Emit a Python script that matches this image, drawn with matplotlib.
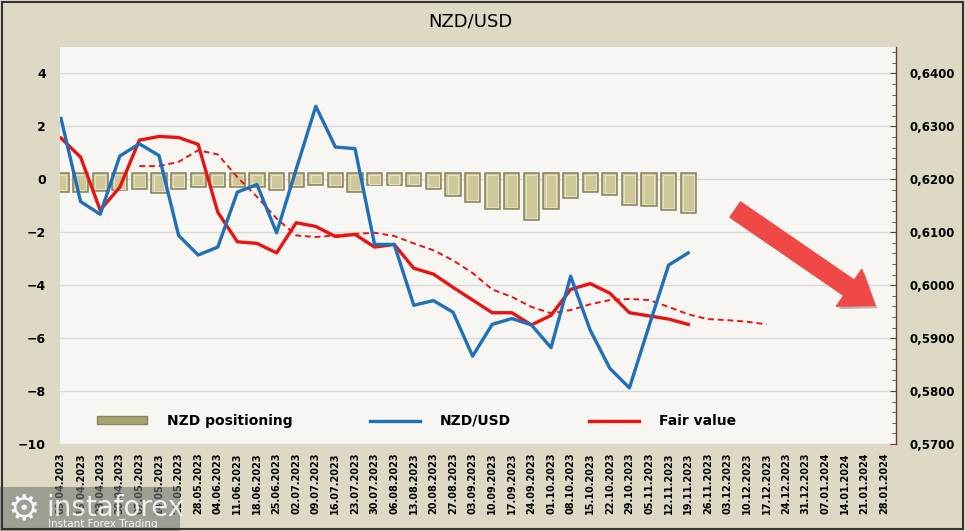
import matplotlib
matplotlib.use('Agg')
import matplotlib.pyplot as plt
from matplotlib.patches import Patch, Rectangle, FancyArrowPatch
from matplotlib.lines import Line2D
from matplotlib.ticker import FuncFormatter, MultipleLocator
import matplotlib.patheffects as pe
import numpy as np

dates = ['09.04.2023', '16.04.2023', '23.04.2023', '30.04.2023', '07.05.2023', '14.05.2023',
         '21.05.2023', '28.05.2023', '04.06.2023', '11.06.2023', '18.06.2023', '25.06.2023',
         '02.07.2023', '09.07.2023', '16.07.2023', '23.07.2023', '30.07.2023', '06.08.2023',
         '13.08.2023', '20.08.2023', '27.08.2023', '03.09.2023', '10.09.2023', '17.09.2023',
         '24.09.2023', '01.10.2023', '08.10.2023', '15.10.2023', '22.10.2023', '29.10.2023',
         '05.11.2023', '12.11.2023', '19.11.2023', '26.11.2023', '03.12.2023', '10.12.2023',
         '17.12.2023', '24.12.2023', '31.12.2023', '07.01.2024', '14.01.2024', '21.01.2024',
         '28.01.2024']

# NZD positioning (left axis)
positioning = [-0.48, -0.48, -0.45, -0.42, -0.35, -0.50, -0.35, -0.29, -0.29, -0.29, -0.29,
               -0.39, -0.29, -0.20, -0.29, -0.48, -0.23, -0.23, -0.26, -0.35, -0.63, -0.86,
               -1.11, -1.13, -1.52, -1.13, -0.69, -0.48, -0.58, -0.98, -1.02, -1.17, -1.27]

# NZD/USD (right axis)
nzdusd = [0.6315, 0.6158, 0.6134, 0.6244, 0.6267, 0.6245, 0.6094, 0.6057, 0.6072, 0.6176,
          0.6190, 0.6099, 0.6219, 0.6338, 0.6261, 0.6258, 0.6077, 0.6077, 0.5962, 0.5971,
          0.5949, 0.5866, 0.5926, 0.5937, 0.5925, 0.5882, 0.6017, 0.5915, 0.5843, 0.5806,
          0.5923, 0.6038, 0.6061]

# Fair value (right axis)
fair_value = [0.6278, 0.6242, 0.6142, 0.6185, 0.6274, 0.6281, 0.6279, 0.6266, 0.6138, 0.6082,
              0.6079, 0.6061, 0.6118, 0.6111, 0.6092, 0.6096, 0.6072, 0.6077, 0.6032, 0.6021,
              0.5996, 0.5972, 0.5948, 0.5948, 0.5925, 0.5943, 0.5992, 0.6003, 0.5985, 0.5948,
              0.5942, 0.5936, 0.5926]

# fair value trend (dashed), starts at 07.05.2023
trend_start = 4
fair_trend = [0.6225, 0.6225, 0.6233, 0.6255, 0.6247, 0.6204, 0.6167, 0.6126, 0.6094, 0.6091,
              0.6094, 0.6097, 0.6099, 0.6093, 0.6079, 0.6066, 0.6047, 0.6023, 0.5992, 0.5978,
              0.5959, 0.5947, 0.5953, 0.5964, 0.5972, 0.5974, 0.5972, 0.5959, 0.5945, 0.5936,
              0.5934, 0.5931, 0.5926]

fig_bg = '#ddd9c4'
plot_bg = '#f7f6f2'

fig = plt.figure(figsize=(9.65, 5.31), dpi=100, facecolor=fig_bg)
ax = fig.add_axes([60/965, 1-444/531, 836/965, 397/531])
ax.set_facecolor(plot_bg)
ax2 = ax.twinx()

x = np.arange(len(dates))

# bars (with a simple bevel look)
xb = x[:len(positioning)]
ax.bar(xb, np.array(positioning) - 0.25, bottom=0.25, width=0.78,
       color='#d3cca0', edgecolor='#858059', linewidth=1.1, zorder=3)
ax.bar(xb, np.array(positioning) - 0.25 + 0.14, bottom=0.25 - 0.07, width=0.54,
       color='#cec797', edgecolor='#e6e1c6', linewidth=0.7, zorder=3)

ax.set_ylim(-10, 5)
ax.set_xlim(-0.05, 42.6)
ax.set_yticks(range(-10, 5, 2))
ax.yaxis.grid(True, color='#d8d8d8', linewidth=1, zorder=0)
ax.set_axisbelow(True)
ax.tick_params(axis='y', length=0, pad=10, labelsize=9)
for lab in ax.get_yticklabels():
    lab.set_fontweight('bold')

ax.set_xticks(x)
ax.set_xticklabels(dates, rotation=90, fontsize=7, fontweight='bold', va='top')
ax.tick_params(axis='x', length=0, pad=6)

for s in ['top', 'left', 'bottom', 'right']:
    ax.spines[s].set_visible(False)

# lines on right axis
xl = x[:len(nzdusd)]
ax2.plot(xl, nzdusd, color='#1f70b8', linewidth=2.4, zorder=5)
ax2.plot(xl, fair_value, color='#e81414', linewidth=2.4, zorder=4)
xt = x[trend_start:trend_start + len(fair_trend)]
ax2.plot(xt, fair_trend, color='#e81414', linewidth=1.4, linestyle=(0, (3, 2)), zorder=4)

ax2.set_ylim(0.57, 0.645)
ax2.set_yticks(np.arange(0.57, 0.6401, 0.01))
ax2.yaxis.set_minor_locator(MultipleLocator(0.002))
ax2.yaxis.set_major_formatter(FuncFormatter(lambda v, p: ('%.4f' % v).replace('.', ',')))
ax2.tick_params(axis='y', which='major', direction='in', length=4, color='#6b3a30',
                labelsize=8.5, pad=10)
ax2.tick_params(axis='y', which='minor', direction='in', length=3, color='#6b3a30')
for lab in ax2.get_yticklabels():
    lab.set_fontweight('bold')
for s in ['top', 'left', 'bottom']:
    ax2.spines[s].set_visible(False)
ax2.spines['right'].set_color('#6b3a30')
ax2.spines['right'].set_linewidth(1.0)

# title
fig.text(0.487, 1-21/531, 'NZD/USD', ha='center', va='center', fontsize=13)

# legend
handles = [Patch(facecolor='#a8a274', edgecolor='#8a8458'),
           Line2D([], [], color='#1f70b8', linewidth=2.4),
           Line2D([], [], color='#e81414', linewidth=2.4)]
leg = ax.legend(handles, ['NZD positioning', 'NZD/USD', 'Fair value'], ncol=3,
                loc='center left', bbox_to_anchor=(31/836, 23/397), frameon=False,
                borderaxespad=0, prop={'weight': 'bold', 'size': 10}, handlelength=3.6,
                handleheight=0.5, handletextpad=1.45, columnspacing=5.6)
leg.set_zorder(10)

# arrow
arr = FancyArrowPatch((733, 531-208), (877, 531-307), transform=None,
                      arrowstyle='simple,head_length=1.6,head_width=2.3,tail_width=0.95',
                      mutation_scale=14, color='#f04747', zorder=20, capstyle='round',
                      path_effects=[pe.SimplePatchShadow(offset=(2, -2), alpha=0.3), pe.Normal()])
fig.patches.append(arr)

# logo
fig.patches.append(Rectangle((0, 0), 180, 44, transform=None, facecolor='#777777',
                             alpha=0.6, edgecolor='none', zorder=30))
fig.text(8/965, 22/531, '\u2699', fontsize=26, color='white', ha='left', va='center',
         zorder=31, alpha=0.9)
fig.text(46/965, 23/531, 'instaforex', fontsize=20, color='white', ha='left', va='center',
         zorder=31, alpha=0.85)
fig.text(48/965, 7/531, 'Instant Forex Trading', fontsize=7.5, color='white', ha='left',
         va='center', zorder=31, alpha=0.9)

# border
fig.patches.append(Rectangle((0.002, 0.003), 0.996, 0.994, transform=fig.transFigure,
                             fill=False, edgecolor='#333333', linewidth=1.5, zorder=40))

fig.savefig('out.png', dpi=100, facecolor=fig_bg)
